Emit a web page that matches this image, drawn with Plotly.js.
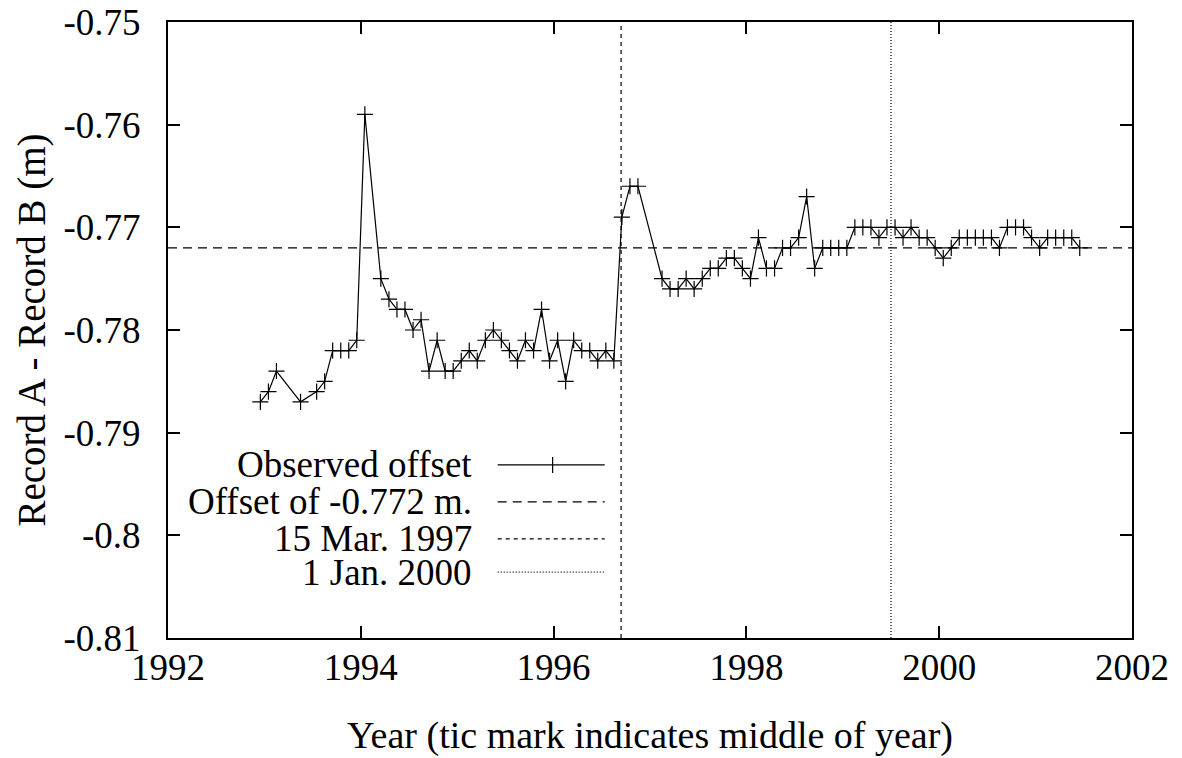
<!DOCTYPE html>
<html>
<head>
<meta charset="utf-8">
<script src="https://cdn.plot.ly/plotly-3.0.1.min.js"></script>
<style>
  html, body { margin: 0; padding: 0; background: #fff; font-family: 'Liberation Serif', serif; }
  #chart { width: 1182px; height: 758px; }
  #chart svg text { font-family: 'Liberation Serif', serif !important; }
</style>
</head>
<body>
<div id="chart"></div>
<script>
// Monthly offset between the two records (decimal year, tic mark = middle of year)
const years = [
  1992.958, 1993.042, 1993.125, 1993.375, 1993.542, 1993.625, 1993.708, 1993.792,
  1993.875, 1993.958, 1994.042, 1994.208, 1994.292, 1994.375, 1994.458, 1994.542,
  1994.625, 1994.708, 1994.792, 1994.875, 1994.958, 1995.042, 1995.125, 1995.208,
  1995.292, 1995.375, 1995.458, 1995.542, 1995.625, 1995.708, 1995.792, 1995.875,
  1995.958, 1996.042, 1996.125, 1996.208, 1996.292, 1996.375, 1996.458, 1996.542,
  1996.625, 1996.708, 1996.792, 1996.875, 1997.125, 1997.208, 1997.292, 1997.375,
  1997.458, 1997.542, 1997.625, 1997.708, 1997.792, 1997.875, 1997.958, 1998.042,
  1998.125, 1998.208, 1998.292, 1998.375, 1998.458, 1998.542, 1998.625, 1998.708,
  1998.792, 1998.875, 1998.958, 1999.042, 1999.125, 1999.208, 1999.292, 1999.375,
  1999.458, 1999.542, 1999.625, 1999.708, 1999.792, 1999.875, 1999.958, 2000.042,
  2000.125, 2000.208, 2000.292, 2000.375, 2000.458, 2000.542, 2000.625, 2000.708,
  2000.792, 2000.875, 2000.958, 2001.042, 2001.125, 2001.208, 2001.292, 2001.375,
  2001.458
];
const offsets = [
  -0.787, -0.786, -0.784, -0.787, -0.786, -0.785, -0.782, -0.782,
  -0.782, -0.781, -0.759, -0.775, -0.777, -0.778, -0.778, -0.780,
  -0.779, -0.784, -0.781, -0.784, -0.784, -0.783, -0.782, -0.783,
  -0.781, -0.780, -0.781, -0.782, -0.783, -0.781, -0.782, -0.778,
  -0.783, -0.781, -0.785, -0.781, -0.782, -0.782, -0.783, -0.782,
  -0.783, -0.769, -0.766, -0.766, -0.775, -0.776, -0.776, -0.775,
  -0.776, -0.775, -0.774, -0.774, -0.773, -0.773, -0.774, -0.775,
  -0.771, -0.774, -0.774, -0.772, -0.772, -0.771, -0.767, -0.774,
  -0.772, -0.772, -0.772, -0.772, -0.770, -0.770, -0.770, -0.771,
  -0.770, -0.770, -0.771, -0.770, -0.771, -0.771, -0.772, -0.773,
  -0.772, -0.771, -0.771, -0.771, -0.771, -0.771, -0.772, -0.770,
  -0.770, -0.770, -0.771, -0.772, -0.771, -0.771, -0.771, -0.771,
  -0.772
];

// Reference offset and event dates (plotted on the mid-year axis)
const meanOffset = -0.772;
const eventMar1997 = 1996.7;
const eventJan2000 = 1999.5;

// Axis ticks
const xTickVals = [1992, 1994, 1996, 1998, 2000, 2002];
const xTickText = ['1992', '1994', '1996', '1998', '2000', '2002'];
const yTickVals = [-0.81, -0.8, -0.79, -0.78, -0.77, -0.76, -0.75];
const yTickText = ['-0.81', '-0.8', '-0.79', '-0.78', '-0.77', '-0.76', '-0.75'];

// Legend entries
const legendLabels = ['Observed offset', 'Offset of -0.772 m.', '15 Mar. 1997', '1 Jan. 2000'];
const legendDash = ['solid', '9px,6px', '4px,4px', '1px,2px'];

const FONT = 'Liberation Serif';
const FS = 37;

const trace = {
  x: years,
  y: offsets,
  type: 'scatter',
  mode: 'lines+markers',
  line: { color: '#000', width: 1.2 },
  marker: { symbol: 'cross-thin', size: 11.5, line: { color: '#000', width: 1.2 } },
  showlegend: false,
  hoverinfo: 'x+y'
};

const shapes = [
  { type: 'line', xref: 'paper', x0: 0, x1: 1, yref: 'y', y0: meanOffset, y1: meanOffset,
    line: { color: '#000', width: 1.2, dash: legendDash[1] } },
  { type: 'line', xref: 'x', x0: eventMar1997, x1: eventMar1997, yref: 'paper', y0: 0, y1: 1,
    line: { color: '#000', width: 1.2, dash: legendDash[2] } },
  { type: 'line', xref: 'x', x0: eventJan2000, x1: eventJan2000, yref: 'paper', y0: 0, y1: 1,
    line: { color: '#000', width: 1.2, dash: legendDash[3] } }
];

// Key: labels right-aligned, line samples to their right
const keyRows = [0.281, 0.221, 0.161, 0.107];
const keyTextX = 0.317, keyLine0 = 0.342, keyLine1 = 0.453, keyMark = 0.399;
const annotations = [];
legendLabels.forEach((lab, i) => {
  annotations.push({
    xref: 'paper', yref: 'paper', x: keyTextX, y: keyRows[i],
    xanchor: 'right', yanchor: 'middle', showarrow: false,
    text: lab, font: { family: FONT, size: FS, color: '#000' }
  });
  shapes.push({
    type: 'line', xref: 'paper', yref: 'paper',
    x0: keyLine0, x1: keyLine1, y0: keyRows[i], y1: keyRows[i],
    line: { color: '#000', width: 1.2, dash: legendDash[i] }
  });
});
shapes.push({
  type: 'line', xref: 'paper', yref: 'paper',
  x0: keyMark, x1: keyMark, y0: keyRows[0] - 0.013, y1: keyRows[0] + 0.013,
  line: { color: '#000', width: 1.2 }
});

const axisCommon = {
  showgrid: false, zeroline: false,
  showline: true, linecolor: '#000', linewidth: 2, mirror: 'ticks',
  ticks: 'inside', ticklen: 12, tickwidth: 2, tickcolor: '#000',
  tickfont: { family: FONT, size: FS, color: '#000' }
};

const layout = {
  width: 1182, height: 758,
  margin: { l: 168, r: 50, t: 22, b: 120 },
  paper_bgcolor: '#fff', plot_bgcolor: '#fff',
  font: { family: FONT, size: FS, color: '#000' },
  xaxis: Object.assign({}, axisCommon, {
    range: [1992, 2002], tickvals: xTickVals, ticktext: xTickText,
    ticklabelstandoff: -4,
    title: { text: 'Year (tic mark indicates middle of year)', font: { family: FONT, size: 38, color: '#000' }, standoff: 34 }
  }),
  yaxis: Object.assign({}, axisCommon, {
    range: [-0.81, -0.75], tickvals: yTickVals, ticktext: yTickText,
    ticklabelstandoff: 18,
    title: { text: 'Record A - Record B (m)', font: { family: FONT, size: 39, color: '#000' }, standoff: 6 }
  }),
  shapes: shapes,
  annotations: annotations
};

Plotly.newPlot('chart', [trace], layout, { displayModeBar: false });
</script>
</body>
</html>
